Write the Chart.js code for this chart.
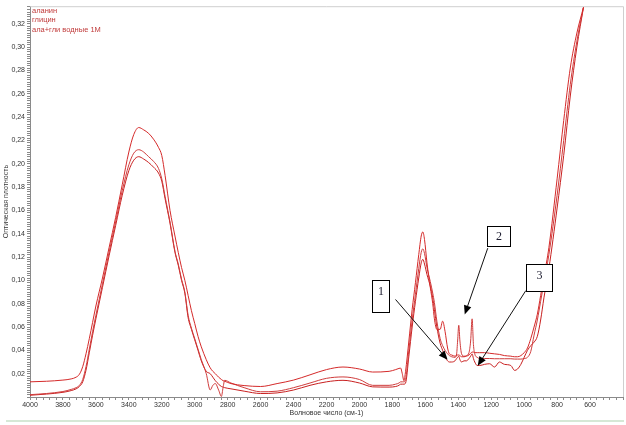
<!DOCTYPE html>
<html>
<head>
<meta charset="utf-8">
<script src="https://cdn.jsdelivr.net/npm/chart.js@4.4.1/dist/chart.umd.min.js"></script>
<style>
  html, body { margin: 0; padding: 0; background: #ffffff; }
  #wrap { width: 626px; height: 425px; position: relative; }
</style>
</head>
<body>
<div id="wrap"><canvas id="irChart" width="626" height="425"></canvas></div>
<script>
// Wavenumbers, cm-1 (shared x grid for all three spectra)
const wavenumbers = [
  4000, 3900, 3800, 3750, 3720, 3700, 3680, 3660, 3640, 3620,
  3600, 3560, 3520, 3480, 3440, 3400, 3370, 3340, 3310, 3280,
  3250, 3220, 3200, 3180, 3150, 3120, 3100, 3080, 3060, 3040,
  3020, 3000, 2980, 2960, 2930, 2906, 2890, 2875, 2855, 2838,
  2828, 2818, 2780, 2700, 2600, 2500, 2400, 2300, 2200, 2100,
  2000, 1920, 1820, 1780, 1760, 1750, 1740, 1730, 1720, 1700,
  1680, 1660, 1640, 1625, 1615, 1605, 1590, 1570, 1555, 1545,
  1530, 1510, 1495, 1480, 1465, 1454, 1440, 1420, 1410, 1404,
  1397, 1390, 1380, 1365, 1350, 1335, 1325, 1316, 1308, 1300,
  1285, 1270, 1240, 1210, 1180, 1150, 1120, 1081, 1058, 1040,
  1020, 1000, 980, 960, 940, 920, 900, 880, 850, 800,
  760, 720, 680, 640
];

const alanine = [
  0.0130, 0.0135, 0.0145, 0.0155, 0.0170, 0.0195, 0.0260, 0.0370, 0.0500, 0.0640,
  0.0780, 0.1020, 0.1280, 0.1540, 0.1820, 0.2100, 0.2250, 0.2310, 0.2290, 0.2260,
  0.2210, 0.2140, 0.2070, 0.1900, 0.1600, 0.1380, 0.1240, 0.1110, 0.1000, 0.0870,
  0.0740, 0.0630, 0.0520, 0.0430, 0.0320, 0.0250, 0.0220, 0.0200, 0.0170, 0.0150,
  0.0140, 0.0135, 0.0115, 0.0098, 0.0090, 0.0115, 0.0145, 0.0190, 0.0235, 0.0257,
  0.0240, 0.0214, 0.0220, 0.0235, 0.0245, 0.0248, 0.0200, 0.0140, 0.0220, 0.0480,
  0.0750, 0.0980, 0.1220, 0.1380, 0.1415, 0.1350, 0.1150, 0.0940, 0.0800, 0.0670,
  0.0580, 0.0580, 0.0650, 0.0560, 0.0420, 0.0370, 0.0360, 0.0350, 0.0355, 0.0360,
  0.0360, 0.0355, 0.0345, 0.0345, 0.0350, 0.0360, 0.0375, 0.0385, 0.0385, 0.0380,
  0.0380, 0.0380, 0.0380, 0.0375, 0.0370, 0.0365, 0.0355, 0.0350, 0.0345, 0.0345,
  0.0355, 0.0380, 0.0420, 0.0500, 0.0600, 0.0710, 0.0870, 0.1030, 0.1280, 0.1870,
  0.2370, 0.2820, 0.3120, 0.3340
];

const glycine = [
  0.0020, 0.0030, 0.0047, 0.0065, 0.0080, 0.0100, 0.0150, 0.0260, 0.0410, 0.0560,
  0.0700, 0.0970, 0.1240, 0.1500, 0.1770, 0.1990, 0.2090, 0.2120, 0.2100, 0.2060,
  0.2020, 0.1960, 0.1870, 0.1720, 0.1500, 0.1250, 0.1140, 0.1010, 0.0900, 0.0700,
  0.0590, 0.0500, 0.0410, 0.0320, 0.0200, 0.0060, 0.0100, 0.0115, 0.0060, 0.0005,
  0.0080, 0.0143, 0.0120, 0.0080, 0.0045, 0.0050, 0.0080, 0.0120, 0.0160, 0.0172,
  0.0150, 0.0100, 0.0100, 0.0110, 0.0120, 0.0130, 0.0130, 0.0130, 0.0150, 0.0400,
  0.0660, 0.0880, 0.1100, 0.1240, 0.1270, 0.1230, 0.1110, 0.0990, 0.0890, 0.0810,
  0.0650, 0.0500, 0.0440, 0.0400, 0.0370, 0.0355, 0.0345, 0.0340, 0.0370, 0.0480,
  0.0615, 0.0480, 0.0370, 0.0350, 0.0355, 0.0380, 0.0480, 0.0670, 0.0450, 0.0370,
  0.0340, 0.0330, 0.0330, 0.0330, 0.0328, 0.0328, 0.0328, 0.0328, 0.0325, 0.0325,
  0.0325, 0.0330, 0.0340, 0.0390, 0.0530, 0.0660, 0.0820, 0.0980, 0.1220, 0.1730,
  0.2200, 0.2680, 0.3050, 0.3340
];

const mixture = [
  0.0015, 0.0025, 0.0040, 0.0055, 0.0070, 0.0090, 0.0130, 0.0230, 0.0380, 0.0530,
  0.0670, 0.0940, 0.1210, 0.1470, 0.1730, 0.1940, 0.2030, 0.2060, 0.2040, 0.2010,
  0.1970, 0.1920, 0.1850, 0.1700, 0.1490, 0.1240, 0.1130, 0.1000, 0.0890, 0.0680,
  0.0580, 0.0490, 0.0400, 0.0310, 0.0220, 0.0200, 0.0170, 0.0140, 0.0110, 0.0090,
  0.0085, 0.0080, 0.0070, 0.0050, 0.0030, 0.0035, 0.0060, 0.0100, 0.0130, 0.0143,
  0.0120, 0.0087, 0.0085, 0.0090, 0.0100, 0.0110, 0.0110, 0.0110, 0.0120, 0.0350,
  0.0600, 0.0820, 0.1020, 0.1150, 0.1180, 0.1140, 0.1050, 0.0950, 0.0850, 0.0750,
  0.0600, 0.0460, 0.0400, 0.0340, 0.0310, 0.0300, 0.0300, 0.0310, 0.0330, 0.0340,
  0.0350, 0.0320, 0.0300, 0.0310, 0.0310, 0.0330, 0.0350, 0.0370, 0.0330, 0.0300,
  0.0270, 0.0270, 0.0280, 0.0285, 0.0257, 0.0300, 0.0280, 0.0270, 0.0228, 0.0240,
  0.0280, 0.0340, 0.0400, 0.0440, 0.0470, 0.0520, 0.0660, 0.0850, 0.1100, 0.1620,
  0.2070, 0.2580, 0.3000, 0.3340
];

const seriesNames = ["аланин", "глицин", "ала+гли водные 1М"];

// numbered callouts: box corners and arrow ends in data units (cm-1, absorbance)
const calloutLabels = ["1", "2", "3"];
const calloutBoxes = [
  [1921, 0.1005, 1818, 0.0725],
  [1227, 0.1463, 1087, 0.1293],
  [990, 0.1141, 831, 0.0912]
];
const calloutArrows = [
  [1781, 0.0836, 1465, 0.0319],
  [1221, 0.1276, 1361, 0.0708],
  [990, 0.0912, 1282, 0.0268]
];

const colors = ["#d42a2a", "#cf3c3c", "#c82020"];
const tickFont = { family: "'Liberation Sans', Arial, sans-serif", size: 7 };

function toPoints(ys) {
  return wavenumbers.map((w, i) => ({ x: w, y: ys[i] }));
}

const legendText = {
  id: "legendText",
  afterDatasetsDraw(chart) {
    const { ctx, chartArea } = chart;
    ctx.save();
    ctx.font = "7.5px 'Liberation Sans', Arial, sans-serif";
    ctx.textBaseline = "middle";
    chart.data.datasets.forEach((ds, i) => {
      ctx.fillStyle = "#c03a3a";
      ctx.fillText(ds.label, chartArea.left + 2, chartArea.top + 4.5 + i * 9.7);
    });
    ctx.restore();
  }
};

const callouts = {
  id: "callouts",
  afterDatasetsDraw(chart) {
    const { ctx } = chart;
    const sx = chart.scales.x, sy = chart.scales.y;
    ctx.save();
    // arrows
    calloutArrows.forEach(([x1, y1, x2, y2]) => {
      const ax = sx.getPixelForValue(x1), ay = sy.getPixelForValue(y1);
      const bx = sx.getPixelForValue(x2), by = sy.getPixelForValue(y2);
      const ang = Math.atan2(by - ay, bx - ax);
      const headLen = 9, headW = 3.8;
      ctx.strokeStyle = "#111";
      ctx.lineWidth = 1;
      ctx.beginPath();
      ctx.moveTo(ax, ay);
      ctx.lineTo(bx - Math.cos(ang) * headLen * 0.8, by - Math.sin(ang) * headLen * 0.8);
      ctx.stroke();
      ctx.fillStyle = "#000";
      ctx.beginPath();
      ctx.moveTo(bx, by);
      ctx.lineTo(bx - Math.cos(ang) * headLen + Math.sin(ang) * headW,
                 by - Math.sin(ang) * headLen - Math.cos(ang) * headW);
      ctx.lineTo(bx - Math.cos(ang) * headLen - Math.sin(ang) * headW,
                 by - Math.sin(ang) * headLen + Math.cos(ang) * headW);
      ctx.closePath();
      ctx.fill();
    });
    // boxes with numbers
    calloutBoxes.forEach(([x1, y1, x2, y2], i) => {
      const l = Math.round(sx.getPixelForValue(x1)) + 0.5;
      const t = Math.round(sy.getPixelForValue(y1)) + 0.5;
      const r = Math.round(sx.getPixelForValue(x2)) + 0.5;
      const b = Math.round(sy.getPixelForValue(y2)) + 0.5;
      ctx.fillStyle = "#ffffff";
      ctx.fillRect(l, t, r - l, b - t);
      ctx.strokeStyle = "#000";
      ctx.lineWidth = 1;
      ctx.strokeRect(l, t, r - l, b - t);
      ctx.fillStyle = "#1b1b2e";
      ctx.font = "12px 'Liberation Serif', 'Times New Roman', serif";
      ctx.textAlign = "center";
      ctx.textBaseline = "middle";
      ctx.fillText(calloutLabels[i], (l + r) / 2, t + Math.min(11, (b - t) / 2));
    });
    ctx.restore();
  }
};

const frame = {
  id: "frame",
  beforeDatasetsDraw(chart) {
    const { ctx, chartArea } = chart;
    ctx.save();
    ctx.strokeStyle = "#cfcfcf";
    ctx.lineWidth = 1;
    ctx.beginPath();
    ctx.moveTo(chartArea.left, chartArea.top + 0.5);
    ctx.lineTo(chartArea.right + 0.5, chartArea.top + 0.5);
    ctx.lineTo(chartArea.right + 0.5, chartArea.bottom);
    ctx.stroke();
    // thin greenish rule under the figure
    ctx.strokeStyle = "#d6e8d6";
    ctx.lineWidth = 2;
    ctx.beginPath();
    ctx.moveTo(6, chart.height - 4);
    ctx.lineTo(chart.width - 2, chart.height - 4);
    ctx.stroke();
    ctx.restore();
  }
};

const irChart = new Chart(document.getElementById("irChart"), {
  type: "line",
  data: {
    datasets: [
      { label: seriesNames[0], data: toPoints(alanine), borderColor: colors[0] },
      { label: seriesNames[1], data: toPoints(glycine), borderColor: colors[1] },
      { label: seriesNames[2], data: toPoints(mixture), borderColor: colors[2] }
    ].map(ds => Object.assign(ds, {
      borderWidth: 1,
      pointRadius: 0,
      fill: false,
      cubicInterpolationMode: "monotone"
    }))
  },
  options: {
    responsive: false,
    animation: false,
    layout: { padding: { top: 3, right: 3, left: 0, bottom: 6 } },
    plugins: {
      legend: { display: false },
      tooltip: { enabled: false }
    },
    scales: {
      x: {
        type: "linear",
        reverse: true,
        min: 400,
        max: 4000,
        afterFit(scale) { scale.height = 22; },
        border: { color: "#8a8a8a" },
        grid: { drawOnChartArea: false, tickLength: 3, color: "#8a8a8a" },
        ticks: {
          stepSize: 40,
          autoSkip: false,
          maxRotation: 0,
          padding: 1,
          color: "#333",
          font: tickFont,
          callback: v => (v % 200 === 0 && v >= 600 ? String(v) : "")
        },
        title: {
          display: true,
          text: "Волновое число (см-1)",
          color: "#333",
          font: tickFont,
          padding: { top: 0, bottom: 2 }
        }
      },
      y: {
        type: "linear",
        min: 0,
        max: 0.335,
        afterFit(scale) { scale.width = 30; },
        border: { color: "#8a8a8a" },
        grid: { drawOnChartArea: false, tickLength: 3, color: "#8a8a8a" },
        ticks: {
          stepSize: 0.002,
          autoSkip: false,
          padding: 2,
          color: "#333",
          font: tickFont,
          callback: v => {
            const m = Math.round(v * 1000);
            return m > 0 && m % 20 === 0 && m <= 320 ? (m / 1000).toFixed(2).replace(".", ",") : "";
          }
        },
        title: {
          display: true,
          text: "Оптическая плотность",
          color: "#333",
          font: tickFont,
          padding: { top: 2, bottom: 0 }
        }
      }
    }
  },
  plugins: [frame, legendText, callouts]
});
</script>
</body>
</html>
